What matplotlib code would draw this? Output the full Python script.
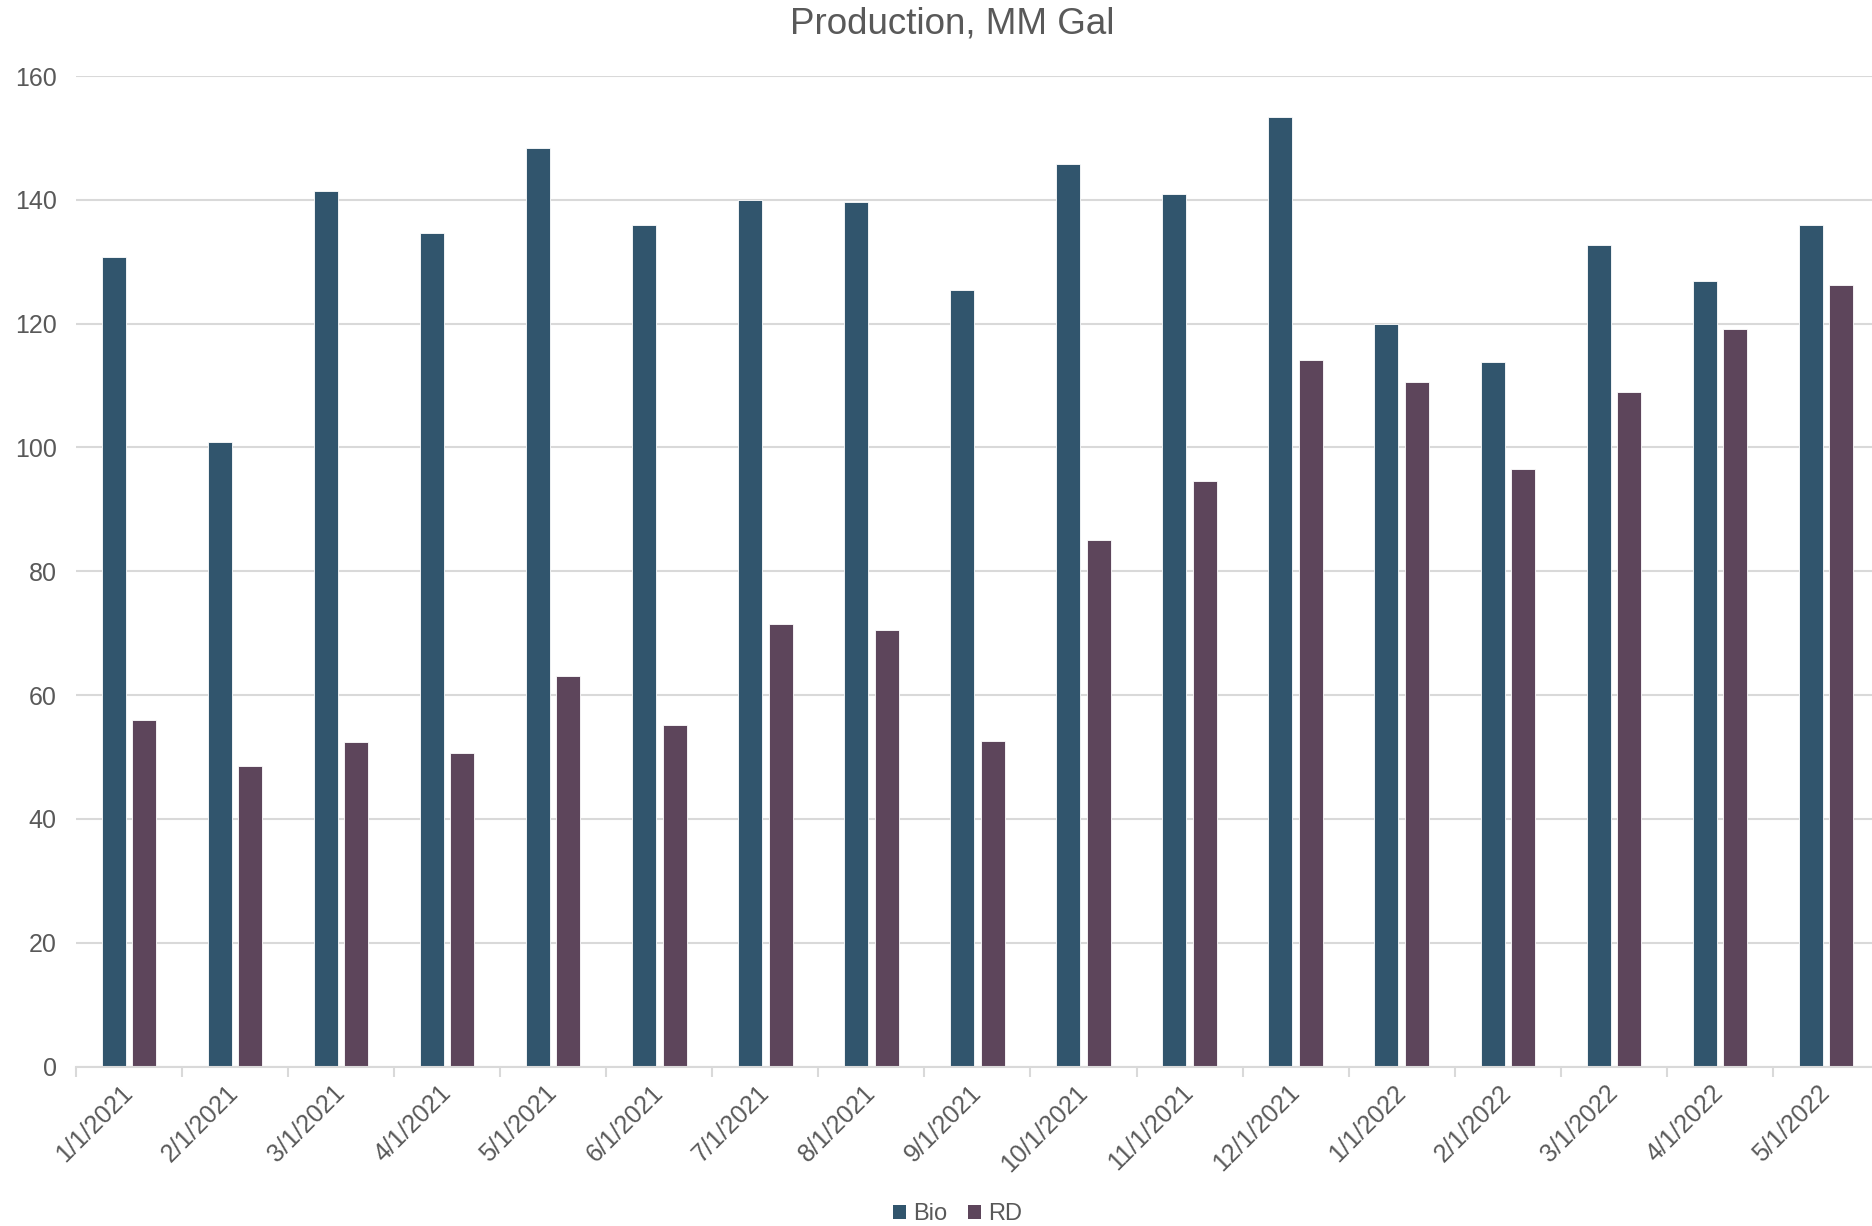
import matplotlib
matplotlib.use("Agg")
import matplotlib.pyplot as plt
from matplotlib.patches import Patch
import numpy as np

plt.rcParams['font.family'] = ['Liberation Sans', 'DejaVu Sans']

categories = ["1/1/2021", "2/1/2021", "3/1/2021", "4/1/2021", "5/1/2021", "6/1/2021",
              "7/1/2021", "8/1/2021", "9/1/2021", "10/1/2021", "11/1/2021", "12/1/2021",
              "1/1/2022", "2/1/2022", "3/1/2022", "4/1/2022", "5/1/2022"]
bio = [130.7, 100.9, 141.5, 134.7, 148.4, 136.0, 140.0, 139.6, 125.5,
       145.8, 141.0, 153.4, 120.0, 113.8, 132.7, 126.9, 135.9]
rd = [56.0, 48.5, 52.4, 50.6, 63.1, 55.2, 71.5, 70.5, 52.6,
      85.1, 94.6, 114.2, 110.5, 96.5, 108.9, 119.1, 126.2]
series_names = ["Bio", "RD"]
yticks = [0, 20, 40, 60, 80, 100, 120, 140, 160]

c_bio = "#31556D"
c_rd = "#5D455B"
grid_c = "#D9D9D9"
text_c = "#595959"

fig = plt.figure(figsize=(18.72, 12.26), dpi=100)
ax = fig.add_axes([0.0406, 0.130, 0.9631, 0.808])

x = np.arange(len(categories))
w = 0.226
off = 0.1435
ax.bar(x - off, bio, width=w, color=c_bio, edgecolor="white", linewidth=0.6, zorder=3)
ax.bar(x + off, rd, width=w, color=c_rd, edgecolor="white", linewidth=0.6, zorder=3)

ax.set_xlim(-0.5, len(categories) - 0.5)
ax.set_ylim(0, 160)
ax.set_yticks(yticks)
ax.yaxis.grid(True, color=grid_c, linewidth=1.5, zorder=0)
ax.set_axisbelow(True)

for s in ["left", "right", "top"]:
    ax.spines[s].set_visible(False)
ax.spines["bottom"].set_color(grid_c)
ax.spines["bottom"].set_linewidth(1.5)
ax.spines["bottom"].set_zorder(4)

ax.tick_params(axis="y", length=0, pad=14, labelsize=18, labelcolor=text_c)
ax.set_xticks(x)
ax.set_xticklabels(categories, rotation=45, ha="right", va="center",
                   rotation_mode="anchor", fontsize=18, color=text_c)
ax.tick_params(axis="x", which="major", length=0, pad=16)
ax.set_xticks(np.arange(-0.5, len(categories), 1.0), minor=True)
ax.tick_params(axis="x", which="minor", length=7, width=1.5, color=grid_c)

fig.text(0.5085, 0.9805, "Production, MM Gal", ha="center", va="center",
         fontsize=26.5, color=text_c)

handles = [Patch(facecolor=c_bio, edgecolor="none"), Patch(facecolor=c_rd, edgecolor="none")]
leg = fig.legend(handles, series_names, loc="center", bbox_to_anchor=(0.5115, 0.0095),
                 ncol=2, frameon=False, fontsize=17, handlelength=0.55, handleheight=0.55,
                 handletextpad=0.3, columnspacing=0.9, borderaxespad=0)
for t in leg.get_texts():
    t.set_color(text_c)

fig.savefig("out.png", dpi=100)
